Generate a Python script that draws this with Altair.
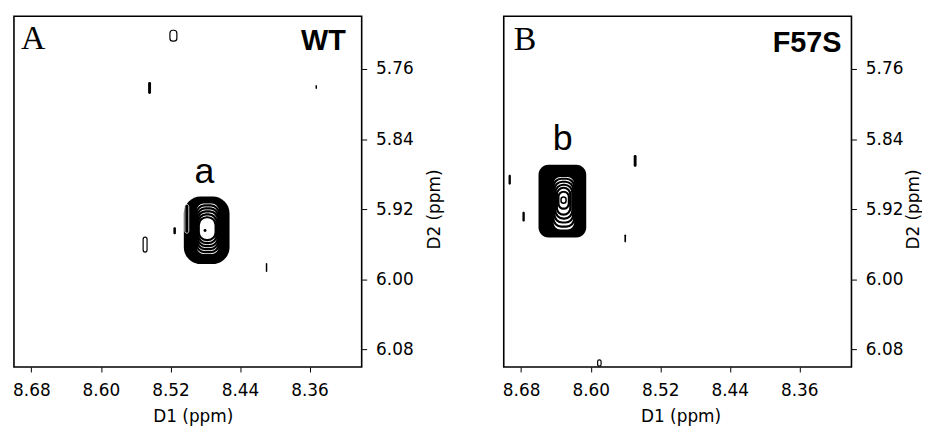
import altair as alt
import pandas as pd

# ---------------- axis ticks ----------------
x_ticks = [8.68, 8.60, 8.52, 8.44, 8.36]
y_ticks = [5.76, 5.84, 5.92, 6.00, 6.08]

# ---------------- Panel A (WT) ----------------
a_blob_x1 = [8.5046]
a_blob_x2 = [8.4520]
a_blob_y1 = [5.9054]
a_blob_y2 = [5.9826]

a_ring_x1 = [8.4909, 8.4899, 8.4892, 8.4886, 8.4880, 8.4874]
a_ring_x2 = [8.4634, 8.4644, 8.4651, 8.4657, 8.4669, 8.4680]
a_ring_y1 = [5.9122, 5.9156, 5.9190, 5.9224, 5.9258, 5.9292]
a_ring_y2 = [5.9724, 5.9689, 5.9655, 5.9621, 5.9587, 5.9553]

a_center_x = [8.4802]
a_center_y = [5.9443]

a_white_x1 = [8.5034]
a_white_x2 = [8.4989]
a_white_y1 = [5.9145]
a_white_y2 = [5.9474]

a_dot_x1 = [8.5457, 8.3531, 8.5166, 8.4103]
a_dot_x2 = [8.5423, 8.3514, 8.5137, 8.4086]
a_dot_y1 = [5.7749, 5.7783, 5.9406, 5.9814]
a_dot_y2 = [5.7885, 5.7828, 5.9485, 5.9916]

a_open_x1 = [8.5206, 8.5514]
a_open_x2 = [8.5126, 8.5469]
a_open_y1 = [5.7159, 5.9519]
a_open_y2 = [5.7284, 5.9689]

a_letter = ["A"]; a_letter_x = [8.692]; a_letter_y = [5.7374]
a_tag = ["WT"]; a_tag_x = [8.3183]; a_tag_y = [5.7386]
a_peak = ["a"]; a_peak_x = [8.4809]; a_peak_y = [5.8901]

# ---------------- Panel B (F57S) ----------------
b_blob_x1 = [8.6600]
b_blob_x2 = [8.6051]
b_blob_y1 = [5.8694]
b_blob_y2 = [5.9523]

b_ring_x1 = [8.6440, 8.6429, 8.6417, 8.6406, 8.6389, 8.6371]
b_ring_x2 = [8.6177, 8.6189, 8.6200, 8.6211, 8.6234, 8.6251]
b_ring_y1 = [5.8819, 5.8853, 5.8887, 5.8921, 5.8955, 5.9001]
b_ring_y2 = [5.9443, 5.9398, 5.9352, 5.9307, 5.9262, 5.9194]

b_oval_x1 = [8.6341]
b_oval_x2 = [8.6283]
b_oval_y1 = [5.9061]
b_oval_y2 = [5.9133]

b_dot_x1 = [8.6945, 8.6785, 8.5505, 8.5612]
b_dot_x2 = [8.6918, 8.6758, 8.5472, 8.5593]
b_dot_y1 = [5.8808, 5.9228, 5.8581, 5.9489]
b_dot_y2 = [5.8921, 5.9341, 5.8717, 5.9579]

b_open_x1 = [8.5920]
b_open_x2 = [8.5880]
b_open_y1 = [6.0918]
b_open_y2 = [6.0990]

b_letter = ["B"]; b_letter_x = [8.6886]; b_letter_y = [5.7389]
b_tag = ["F57S"]; b_tag_x = [8.3114]; b_tag_y = [5.7412]
b_peak = ["b"]; b_peak_x = [8.6322]; b_peak_y = [5.8524]


def boxes(x1, x2, y1, y2):
    return pd.DataFrame({"x1": x1, "x2": x2, "y1": y1, "y2": y2, "order": list(range(len(x1)))})


def labels(t, x, y):
    return pd.DataFrame({"t": t, "x": x, "y": y})


def panel(blob, rings, whites, dots, opens, center_pts, center_ovals,
          letter, tag, peak, x_title_x, y_title_x, blob_radius):
    xs = alt.Scale(domain=[8.30, 8.70], reverse=True, nice=False, zero=False)
    ys = alt.Scale(domain=[5.70, 6.10], reverse=True, nice=False, zero=False)
    xax = alt.Axis(values=x_ticks, format=".2f", title="D1 (ppm)", orient="bottom",
                   tickSize=5, labelPadding=11, titleX=x_title_x, titleY=50,
                   titleBaseline="middle", titleAlign="center", domain=False, grid=False)
    yax = alt.Axis(values=y_ticks, format=".2f", title="D2 (ppm)", orient="right",
                   tickSize=5, labelPadding=9, titleAngle=270, titleX=y_title_x, titleY=194,
                   titleBaseline="middle", titleAlign="center", domain=False, grid=False)

    def X(f):
        return alt.X(f, type="quantitative", scale=xs, axis=xax)

    def Y(f):
        return alt.Y(f, type="quantitative", scale=ys, axis=yax)

    def rect_layer(df, **kw):
        return alt.Chart(df).mark_rect(**kw).encode(
            x=X("x1"), x2="x2", y=Y("y1"), y2="y2", order=alt.Order("order:Q"))

    layers = [
        rect_layer(blob, color="black", cornerRadius=blob_radius),
        rect_layer(whites, fill="black", stroke="white", strokeWidth=0.8, cornerRadius=2),
        rect_layer(rings, fill="white", stroke="black", strokeWidth=2.2, cornerRadius=8),
    ]
    if center_pts is not None:
        layers.append(alt.Chart(center_pts).mark_circle(color="black", size=9, opacity=1).encode(
            x=X("x"), y=Y("y")))
    if center_ovals is not None:
        layers.append(rect_layer(center_ovals, fill="white", stroke="black", strokeWidth=1.5,
                                 cornerRadius=3))
    layers += [
        rect_layer(dots, color="black", cornerRadius=1.4),
        rect_layer(opens, fill="white", stroke="black", strokeWidth=1.2, cornerRadius=3),
        alt.Chart(letter).mark_text(font="Liberation Serif", fontSize=34, align="left",
                                    baseline="alphabetic", color="black").encode(
            x=X("x"), y=Y("y"), text="t"),
        alt.Chart(tag).mark_text(font="Liberation Sans", fontWeight="bold", fontSize=29,
                                 align="right", baseline="alphabetic", color="black").encode(
            x=X("x"), y=Y("y"), text="t"),
        alt.Chart(peak).mark_text(font="Liberation Sans", fontSize=36, align="center",
                                  baseline="alphabetic", color="black").encode(
            x=X("x"), y=Y("y"), text="t"),
    ]
    return alt.layer(*layers).properties(width=350, height=353)


pa = panel(
    boxes(a_blob_x1, a_blob_x2, a_blob_y1, a_blob_y2),
    boxes(a_ring_x1, a_ring_x2, a_ring_y1, a_ring_y2),
    boxes(a_white_x1, a_white_x2, a_white_y1, a_white_y2),
    boxes(a_dot_x1, a_dot_x2, a_dot_y1, a_dot_y2),
    boxes(a_open_x1, a_open_x2, a_open_y1, a_open_y2),
    pd.DataFrame({"x": a_center_x, "y": a_center_y}),
    None,
    labels(a_letter, a_letter_x, a_letter_y),
    labels(a_tag, a_tag_x, a_tag_y),
    labels(a_peak, a_peak_x, a_peak_y),
    180, 73, 17,
)

pb = panel(
    boxes(b_blob_x1, b_blob_x2, b_blob_y1, b_blob_y2),
    boxes(b_ring_x1, b_ring_x2, b_ring_y1, b_ring_y2),
    boxes([], [], [], []),
    boxes(b_dot_x1, b_dot_x2, b_dot_y1, b_dot_y2),
    boxes(b_open_x1, b_open_x2, b_open_y1, b_open_y2),
    None,
    boxes(b_oval_x1, b_oval_x2, b_oval_y1, b_oval_y2),
    labels(b_letter, b_letter_x, b_letter_y),
    labels(b_tag, b_tag_x, b_tag_y),
    labels(b_peak, b_peak_x, b_peak_y),
    178, 62, 10,
)

chart = alt.hconcat(pa, pb, spacing=58).properties(
    padding={"left": 3, "top": 6, "right": 0, "bottom": 0}
).configure_view(
    stroke="black", strokeWidth=1.6
).configure_axis(
    labelFont="DejaVu Sans", labelFontSize=17, labelColor="black",
    titleFont="DejaVu Sans", titleFontSize=17, titleFontWeight="normal", titleColor="black",
    tickColor="black", tickWidth=1
)

chart.save("out.html", embed_options={"renderer": "svg", "actions": False})
